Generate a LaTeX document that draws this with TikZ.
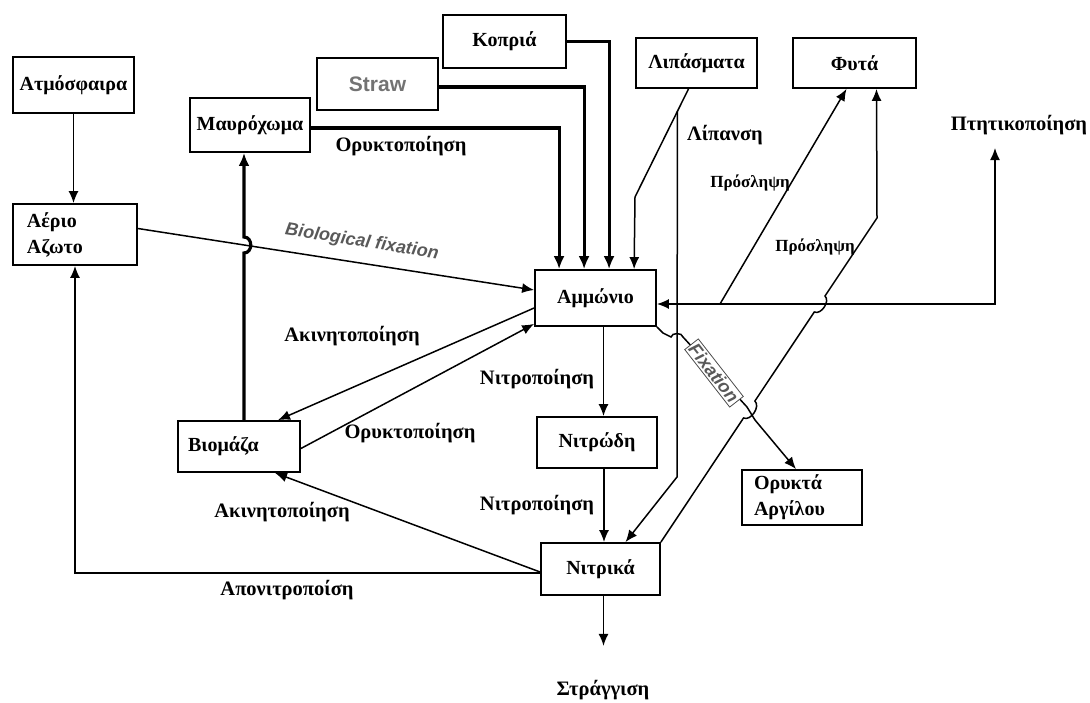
\documentclass[tikz,border=0pt]{standalone}
\usepackage{fontspec}
\setmainfont{Liberation Serif}
\setsansfont{Liberation Sans}
\usetikzlibrary{arrows.meta,calc}
\begin{document}
\begin{tikzpicture}[x=1pt,y=-1pt,
  box/.style={draw, line width=1.8pt, rectangle, inner sep=2pt, font=\bfseries\fontsize{20}{26}\selectfont},
  lab/.style={inner sep=1pt, font=\bfseries\fontsize{20.5}{24}\selectfont},
  slab/.style={inner sep=1pt, font=\bfseries\fontsize{17}{20}\selectfont},
  glab/.style={inner sep=1pt, text=black!65, font=\sffamily\bfseries\itshape\fontsize{18}{20}\selectfont},
  conn/.style={line width=1.5pt, -{Latex[length=12pt,width=10pt]}},
  heavy/.style={line width=3.2pt, -{Latex[length=13pt,width=11pt]}}
]
\useasboundingbox (0,0) rectangle (1090,702);

% boxes
\node[box, minimum width=121pt, minimum height=56pt] (atm) at (73.5,85) {Ατμόσφαιρα};
\node[box, minimum width=124pt, minimum height=61pt, text width=96pt, align=left] (gas) at (75,234.5) {Αέριο\\Αζωτο};
\node[box, minimum width=120pt, minimum height=54pt] (mavro) at (250,125) {Μαυρόχωμα};
\node[box, minimum width=121pt, minimum height=52pt, text=black!55, font=\sffamily\bfseries\fontsize{21}{24}\selectfont] (straw) at (377.5,84) {Straw};
\node[box, minimum width=123pt, minimum height=53pt] (kopria) at (504.5,41.5) {Κοπριά};
\node[box, minimum width=121pt, minimum height=50pt] (lipas) at (696.5,63) {Λιπάσματα};
\node[box, minimum width=123pt, minimum height=50pt] (fyta) at (854.5,63) {Φυτά};
\node[box, minimum width=121pt, minimum height=56pt] (amm) at (595.5,298) {Αμμώνιο};
\node[box, minimum width=120pt, minimum height=51pt] (nitrodi) at (597,442.5) {Νιτρώδη};
\node[box, minimum width=120pt, minimum height=55pt, text width=96pt, align=left] (clay) at (802,497.5) {Ορυκτά\\Αργίλου};
\node[box, minimum width=119pt, minimum height=52pt] (nitr) at (600.5,569) {Νιτρικά};
\node[box, minimum width=122pt, minimum height=51pt, text width=102pt, align=left] (bio) at (239,446.5) {Βιομάζα};

% free labels
\node[lab] (vol) at (1019,125) {Πτητικοποίηση};
\node[lab] (leach) at (603,690) {Στράγγιση};
\node[lab] (lorykt1) at (401,146) {Ορυκτοποίηση};
\node[lab] (lipansi) at (725,135) {Λίπανση};
\node[slab] (pros1) at (750,183) {Πρόσληψη};
\node[slab] (pros2) at (815,247) {Πρόσληψη};
\node[glab, rotate=-9] (biofix) at (362,242) {Biological fixation};
\node[lab] (akin1) at (352,336) {Ακινητοποίηση};
\node[lab] (nitro1) at (537,379) {Νιτροποίηση};
\node[lab] (orykt2) at (410,433) {Ορυκτοποίηση};
\node[lab] (nitro2) at (537,505) {Νιτροποίηση};
\node[lab] (akin2) at (282,512) {Ακινητοποίηση};
\node[lab] (aponitr) at (287,590) {Απονιτροποίση};

% connectors
\draw[conn] (atm.south) -- (atm.south |- gas.north);
\draw[conn] ($(gas.east)+(0,-6)$) -- ($(amm.west)+(0,-8)$);
\draw[heavy] ($(bio.north)+(5,0)$) -- (244,253) .. controls (253,253) and (253,237) .. (244,237) -- ($(mavro.south)+(-6,0)$);
\draw[heavy] ($(mavro.east)+(0,3)$) -| ($(amm.north west)+(25,0)$);
\draw[heavy] ($(straw.east)+(0,3)$) -| ($(amm.north west)+(50,0)$);
\draw[heavy] (kopria.east) -| ($(amm.north west)+(75,0)$);

% fertiliser
\coordinate (lf) at ($(lipas.south)+(-8,0)$);
\coordinate (lb) at (635,197);
\draw[conn] (lf) -- (lb) -- ($(amm.north west)+(100,0)$);
\draw[conn] ($(lf)!0.2075!(lb)$) -- (677,477) -- ($(nitr.north)+(25,0)$);

% volatilisation
\coordinate (vcorner) at (995,304);
\draw[line width=1.5pt, {Latex[length=12pt,width=10pt]}-{Latex[length=12pt,width=10pt]}] ($(amm.east)+(0,6)$) -- (vcorner) -- (vcorner |- 0,148);

% uptake
\draw[conn] (720,304) -- ($(fyta.south)+(-8,0)$);
\draw[conn] (nitr.north east) -- (743.5,418) to[bend right=80] (754.9,401) -- (814.3,312) to[bend right=80] (825,296) -- (877,218) -- ($(fyta.south)+(22,0)$);

% fixation
\draw[conn] (amm.south east) -- (663,333) -- (671,337) to[bend left=80] (683,337) -- (747,407) -- (755,420) -- ($(clay.north)+(-6,0)$);
\node[glab, rotate=-52, fill=white, draw=black!70, line width=0.8pt, inner sep=2pt] (fixlab) at (714,373) {Fixation};

% nitrification
\coordinate (n1) at ($(amm.south)+(8,0)$);
\coordinate (n2) at ($(nitrodi.south)+(7,0)$);
\draw[conn] (n1) -- (n1 |- nitrodi.north);
\draw[conn] (n2) -- (n2 |- nitr.north);

% immobilisation / mineralisation
\draw[conn] ($(amm.west)+(0,10)$) -- ($(bio.north)+(39,0)$);
\draw[conn] ($(bio.east)+(0,2)$) -- ($(amm.south west)+(0,-3)$);
\draw[conn] ($(nitr.west)+(0,3)$) -- ($(bio.south)+(36,0)$);

% denitrification
\draw[conn] ($(nitr.west)+(0,4)$) -| (gas.south);

% leaching
\coordinate (n3) at ($(nitr.south)+(3,0)$);
\draw[conn] (n3) -- ($(n3)+(0,50)$);
\end{tikzpicture}
\end{document}
